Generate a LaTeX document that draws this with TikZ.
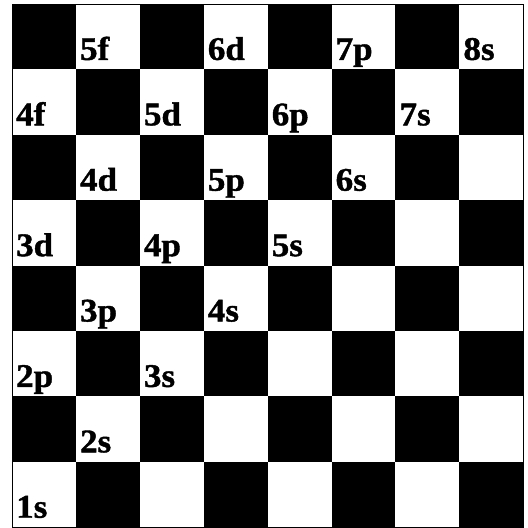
\documentclass[tikz,border=0pt]{standalone}
\usepackage{fontspec}
\setmainfont{Liberation Serif}
\newfontfamily\lblfont{Liberation Serif Bold}[FakeBold=1.2]
\usepackage{graphicx}
\begin{document}
\begin{tikzpicture}[x=1pt,y=-1pt,
  lbl/.style={anchor=base west, inner sep=0pt, font=\lblfont\fontsize{33}{35}\selectfont}]
\useasboundingbox (0,0) rectangle (528,528);
\fill[white] (0,0) rectangle (528,528);
\def\cw{63.9}\def\ch{65.4}
\fill[black] (12,4) rectangle (523.2,527.2);
\foreach \r in {0,...,7}{\foreach \c in {0,...,7}{%
  \pgfmathtruncatemacro\odd{mod(\r+\c,2)}%
  \ifnum\odd=1 \fill[white] ({12+\c*\cw},{4+\r*\ch}) rectangle ++(\cw,\ch);\fi}}
\draw[line width=0.8pt] (12,4) rectangle (523.2,527.2);
\newcommand\lab[3]{\node[lbl] (n#1) at ({16+#3*63.9},{4+(#2+1)*65.4-9.5}) {\scalebox{1.06}[1]{#1}};}
\lab{5f}{0}{1}\lab{6d}{0}{3}\lab{7p}{0}{5}\lab{8s}{0}{7}
\lab{4f}{1}{0}\lab{5d}{1}{2}\lab{6p}{1}{4}\lab{7s}{1}{6}
\lab{4d}{2}{1}\lab{5p}{2}{3}\lab{6s}{2}{5}
\lab{3d}{3}{0}\lab{4p}{3}{2}\lab{5s}{3}{4}
\lab{3p}{4}{1}\lab{4s}{4}{3}
\lab{2p}{5}{0}\lab{3s}{5}{2}
\lab{2s}{6}{1}
\lab{1s}{7}{0}
\end{tikzpicture}
\end{document}
